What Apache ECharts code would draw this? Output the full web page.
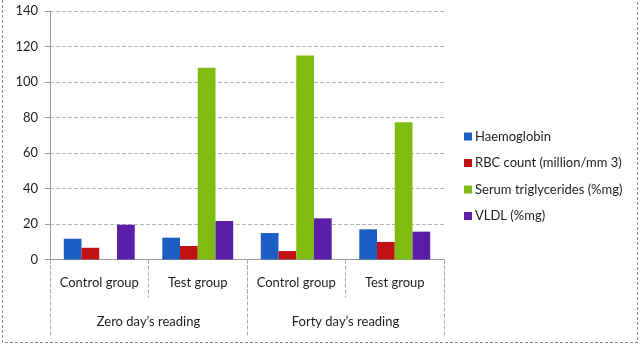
<!DOCTYPE html>
<html>
<head>
<meta charset="utf-8">
<script src="https://cdn.jsdelivr.net/npm/echarts@6/dist/echarts.min.js"></script>
<style>
  html, body { margin: 0; padding: 0; background: #fff; }
  #chart { width: 640px; height: 348px; }
</style>
</head>
<body>
<div id="chart"></div>
<script>
// Groups along the x axis (inner row) and the reading period (outer row)
const groups = ['Control group', 'Test group', 'Control group', 'Test group'];
const periods = ["Zero day\u2019s reading", "Forty day\u2019s reading"];

// Measured values per group
const haemoglobin = [11.7, 12.3, 14.9, 17.0];
const rbcCount = [6.6, 7.6, 4.8, 9.9];
const serumTriglycerides = [0, 108, 115, 77.3];
const vldl = [19.6, 21.7, 23.2, 15.7];

const yTicks = { min: 0, max: 140, step: 20 };

const FONT = 'Lato, "Open Sans", sans-serif';
const TEXT = '#1e1e1e';

const chart = echarts.init(document.getElementById('chart'), null, { renderer: 'canvas' });

function bar(name, data, color) {
  return {
    name, type: 'bar', data,
    barCategoryGap: '28%', barGap: '0%',
    itemStyle: { color },
    emphasis: { disabled: true }
  };
}

chart.setOption({
  animation: false,
  backgroundColor: '#fff',
  textStyle: { fontFamily: FONT },
  grid: { left: 50, right: 196, top: 11, bottom: 88.5 },
  legend: {
    orient: 'vertical', left: 459, top: 125,
    icon: 'rect', itemWidth: 8, itemHeight: 8, itemGap: 13.5,
    textStyle: { fontFamily: FONT, fontSize: 13, color: TEXT, padding: [0, 0, 0, -2] },
    data: ['Haemoglobin', 'RBC count (million/mm 3)', 'Serum triglycerides (%mg)', 'VLDL (%mg)']
  },
  xAxis: [
    {
      type: 'category', data: groups, position: 'bottom',
      axisLine: { show: true, lineStyle: { color: '#9a9a9a', width: 1 } },
      axisTick: { show: true, interval: 0, length: 38, lineStyle: { color: '#aaa', type: 'dashed' } },
      axisLabel: { interval: 0, margin: 17, fontSize: 13, color: TEXT, fontFamily: FONT }
    },
    {
      type: 'category', data: periods, position: 'bottom', offset: 0, gridIndex: 0,
      axisLine: { show: false },
      axisTick: { show: true, interval: 0, length: 77, lineStyle: { color: '#aaa', type: 'dashed' } },
      axisLabel: { interval: 0, margin: 56, fontSize: 13, color: TEXT, fontFamily: FONT }
    }
  ],
  yAxis: {
    type: 'value', min: yTicks.min, max: yTicks.max, interval: yTicks.step,
    axisLine: { show: true, lineStyle: { color: '#9a9a9a' } },
    axisTick: { show: true, length: 5, lineStyle: { color: '#9a9a9a' } },
    axisLabel: { fontSize: 13, color: TEXT, margin: 12, fontFamily: FONT },
    splitLine: { show: true, lineStyle: { color: '#b5b5b5', type: 'dashed', width: 1 } }
  },
  series: [
    bar('Haemoglobin', haemoglobin, '#1c5ec4'),
    bar('RBC count (million/mm 3)', rbcCount, '#c01212'),
    bar('Serum triglycerides (%mg)', serumTriglycerides, '#7fbc12'),
    bar('VLDL (%mg)', vldl, '#5a1fa6')
  ],
  graphic: [
    {
      type: 'rect', silent: true,
      shape: { x: 2.5, y: -3, width: 635, height: 345.5 },
      style: { fill: 'none', stroke: '#8a8a8a', lineWidth: 1, lineDash: [3, 2] }
    }
  ]
});
</script>
</body>
</html>
